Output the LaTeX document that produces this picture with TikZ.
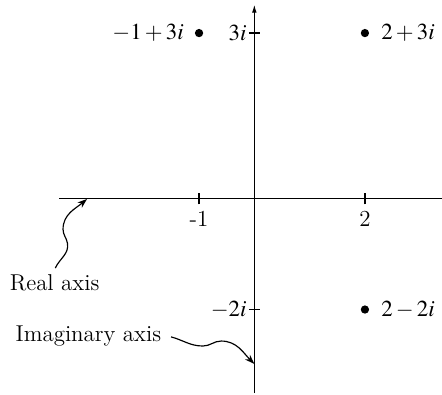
\documentclass[tikz,border=0pt]{standalone}
\usepackage{mathptmx}
\usepackage{tikz}
\usetikzlibrary{arrows.meta,positioning}

\tikzset{
  every node/.style={font=\fontsize{11.8}{14}\selectfont},
  pt/.style={circle,fill,inner sep=0pt,minimum size=0.15cm},
  tick/.style={line width=0.9pt},
  axis/.style={line width=0.5pt},
  pointer/.style={line width=0.6pt,->}
}

\begin{document}
\begin{tikzpicture}[x=1cm,y=1cm,>={Stealth[length=5pt,width=3.5pt]}]
  \useasboundingbox (-4.6,-3.544) rectangle (3.394,3.598);
  % axes
  \coordinate (xl) at (-3.53,0);
  \coordinate (xr) at (3.39,0);
  \coordinate (yb) at (0,-3.51);
  \coordinate (yt) at (0,3.51);
  \draw[axis] (xl) -- (xr);
  \draw[axis,-{Latex[length=4pt,width=2.4pt]}] (yb) -- (yt);
  % ticks
  \draw[tick] (-1,-0.1) -- (-1,0.1);
  \draw[tick] (2,-0.1) -- (2,0.1);
  \draw[tick] (-0.1,3) -- (0.1,3);
  \draw[tick] (-0.1,-2) -- (0.1,-2);
  \node[below] (tm1) at (-1,-0.1) {-1};
  \node[below] (t2) at (2,-0.1) {2};
  \node[anchor=east,inner sep=1pt] (t3i) at (-0.1,3) {$3i$};
  \node[anchor=east,inner sep=1pt] (tm2i) at (-0.1,-2) {$-2i$};
  % points
  \node[pt] (pa) at (-1,3) {};
  \node[pt] (pb) at (2,3) {};
  \node[pt] (pc) at (2,-2) {};
  \node[left=0.07cm of pa] (la) {$-1+3i$};
  \node[right=0.09cm of pb] (lb) {$2+3i$};
  \node[right=0.09cm of pc] (lc) {$2-2i$};
  % labels and pointers
  \node (real) at (-3.613,-1.52) {Real axis};
  \node (imag) at (-3.0,-2.477) {Imaginary axis};
  \coordinate (realfrom) at (-3.60,-1.25);
  \coordinate (realto) at (-3.025,0);
  \coordinate (imfrom) at (-1.506,-2.495);
  \coordinate (imto) at (0,-2.984);
  \draw[pointer] (realfrom) to[out=65,in=-80] (-3.38,-0.80)
    to[out=100,in=-90] (-3.46,-0.55) to[out=90,in=-140] (realto);
  \draw[pointer] (imfrom) to[out=-15,in=180] (-0.93,-2.66)
    to[out=0,in=180] (-0.6,-2.57) to[out=0,in=135] (imto);
\end{tikzpicture}
\end{document}
